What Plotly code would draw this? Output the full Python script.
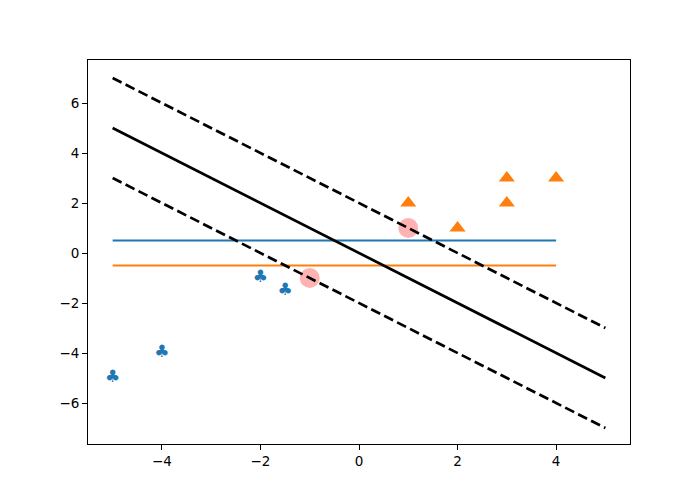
import plotly.graph_objects as go

# data
neg_x = [-5, -4, -2, -1.5]
neg_y = [-5, -4, -1, -1.5]
pos_x = [1, 2, 3, 3, 4]
pos_y = [2, 1, 3, 2, 3]
sv_x = [1, -1]
sv_y = [1, -1]
line_x = [-5, 5]
boundary_y = [5, -5]
margin_up_y = [7, -3]
margin_dn_y = [3, -7]
h_x = [-5, 4]
h_blue_y = [0.5, 0.5]
h_orange_y = [-0.5, -0.5]

fig = go.Figure()
fig.add_trace(go.Scatter(x=h_x, y=h_blue_y, mode="lines", line=dict(color="#1f77b4", width=2)))
fig.add_trace(go.Scatter(x=h_x, y=h_orange_y, mode="lines", line=dict(color="#ff7f0e", width=2)))
fig.add_trace(go.Scatter(x=neg_x, y=neg_y, mode="text", text=["♣"] * len(neg_x),
                         textposition="middle center",
                         textfont=dict(color="#1f77b4", size=17, family="DejaVu Sans")))
fig.add_trace(go.Scatter(x=pos_x, y=pos_y, mode="markers",
                         marker=dict(symbol="triangle-up", size=14, color="#ff7f0e")))
fig.add_trace(go.Scatter(x=sv_x, y=sv_y, mode="markers",
                         marker=dict(symbol="circle", size=20, color="rgba(255,0,0,0.3)", line=dict(width=0))))
fig.add_trace(go.Scatter(x=line_x, y=boundary_y, mode="lines", line=dict(color="black", width=2.7)))
fig.add_trace(go.Scatter(x=line_x, y=margin_up_y, mode="lines", line=dict(color="black", width=2.7, dash="10px,4.5px")))
fig.add_trace(go.Scatter(x=line_x, y=margin_dn_y, mode="lines", line=dict(color="black", width=2.7, dash="10px,4.5px")))

axis_common = dict(showgrid=False, zeroline=False, showline=True, linecolor="black", linewidth=1,
                   mirror=True, ticks="outside", ticklen=5, tickcolor="black",
                   tickfont=dict(family="DejaVu Sans", size=13.5, color="black"))
fig.update_layout(
    width=700, height=500,
    margin=dict(l=88, r=70, t=60, b=56),
    plot_bgcolor="white", paper_bgcolor="white",
    showlegend=False,
    xaxis=dict(range=[-5.5, 5.5], tickvals=[-4, -2, 0, 2, 4], ticktext=["−4", "−2", "0", "2", "4"], **axis_common),
    yaxis=dict(range=[-7.64, 7.72], tickvals=[-6, -4, -2, 0, 2, 4, 6],
               ticktext=["−6", "−4", "−2", "0", "2", "4", "6"], **axis_common),
)
fig.write_html("out.html")
